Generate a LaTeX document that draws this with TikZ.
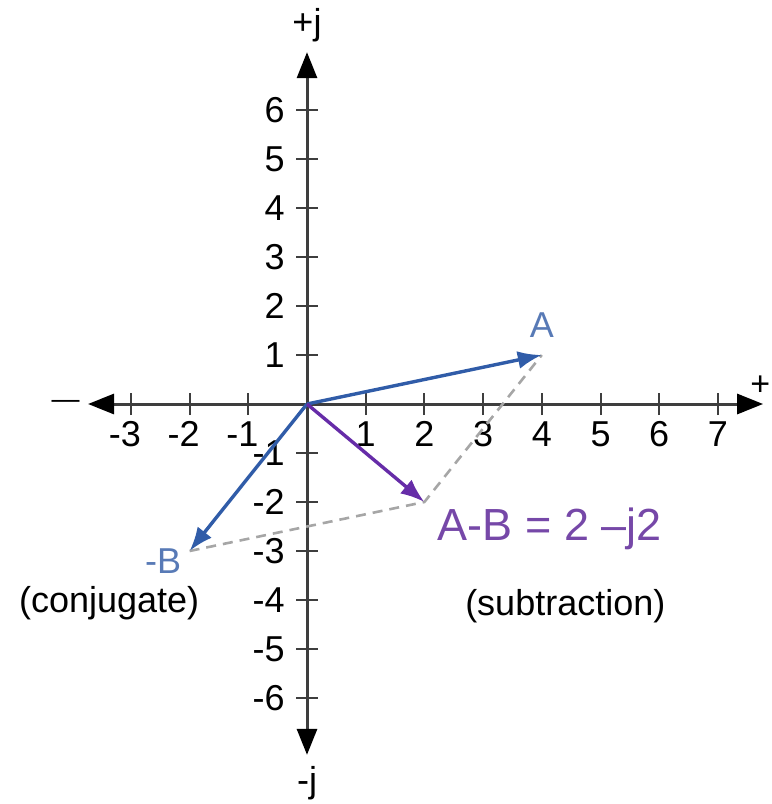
\documentclass[tikz,border=0pt]{standalone}
\usepackage{fontspec}
\setmainfont{Liberation Sans}
\usetikzlibrary{arrows.meta,positioning}
\definecolor{vecblue}{RGB}{48,92,168}
\definecolor{labblue}{RGB}{88,122,182}
\definecolor{vecpurple}{RGB}{102,44,168}
\definecolor{labpurple}{RGB}{118,72,168}
\definecolor{axisgray}{RGB}{62,62,62}
\tikzset{
  cp/axis/.style={draw=axisgray, line width=1.5pt,
    {Triangle[length=13pt,width=10pt,black]}-{Triangle[length=13pt,width=10pt,black]}},
  cp/tick/.style={draw=axisgray, line width=1pt},
  cp/ticklabel/.style={font=\fontsize{18}{20}\selectfont, inner sep=0pt},
  cp/sign/.style={font=\fontsize{14}{16}\selectfont, inner sep=0pt},
  cp/vector/.style={line width=1.7pt, -{Latex[length=12pt,width=9pt]}},
  cp/guide/.style={draw=black!35, line width=1.3pt, dash pattern=on 5pt off 3.5pt},
  cp/label/.style={font=\fontsize{18}{20}\selectfont, inner sep=0pt}
}

\begin{document}
\begin{tikzpicture}[x=29.35pt, y=24.5pt]
  \useasboundingbox (-5.23,-8.163) rectangle (7.92,8.245);

  \coordinate (O) at (0,0);
  \coordinate (xl) at (-3.73,0);
  \coordinate (xr) at (7.77,0);
  \coordinate (yt) at (0,7.18);
  \coordinate (yb) at (0,-7.16);
  \coordinate (a) at (4,1);
  \coordinate (b) at (-2,-3);
  \coordinate (d) at (2,-2);

  % axes
  \draw[cp/axis] (xl) -- (xr);
  \draw[cp/axis] (yb) -- (yt);
  \foreach \i in {-3,-2,-1,1,2,3,4,5,6,7}
    \draw[cp/tick] (\i,0) ++(0,-5.5pt) -- ++(0,11pt);
  \foreach \i in {-6,...,-1,1,2,...,6}
    \draw[cp/tick] (0,\i) ++(-5.5pt,0) -- ++(11pt,0);
  \foreach \i in {-3,-2,-1}
    \node[cp/ticklabel, below=8.5pt, xshift=-3pt] (xlab\i) at (\i,0) {\i};
  \foreach \i in {1,...,7}
    \node[cp/ticklabel, below=8.5pt] (xlab\i) at (\i,0) {\i};
  \foreach \i in {-6,...,-1,1,2,...,6}
    \node[cp/ticklabel, left=11pt] (ylab\i) at (0,\i) {\i};

  \node[cp/label] (plusj) at (0,7.73) {+j};
  \node[cp/label] (minusj) at (0,-7.73) {-j};
  \node[cp/sign] (minusx) at (-4.11,0) {—};
  \node[cp/sign, font=\fontsize{17}{19}\selectfont] (plusx) at (7.72,0.38) {+};

  % construction lines
  \draw[cp/guide] (b) -- (d) -- (a);

  % vectors
  \draw[cp/vector, vecblue] (O) -- (a);
  \draw[cp/vector, vecblue] (O) -- (b);
  \draw[cp/vector, vecpurple] (O) -- (d);

  \node[cp/label, text=labblue, above=8.5pt of a] (alab) {A};
  \node[cp/label, text=labblue, below left=-1.5pt and 4pt of b] (blab) {-B};
  \node[cp/label, font=\fontsize{22.5}{25}\selectfont, text=labpurple,
    below right=2.5pt and 6.5pt of d] (dlab) {A-B = 2 –j2};
  \node[cp/label] (conj) at (-3.37,-4.07) {(conjugate)};
  \node[cp/label] (subt) at (4.40,-4.12) {(subtraction)};
\end{tikzpicture}
\end{document}
